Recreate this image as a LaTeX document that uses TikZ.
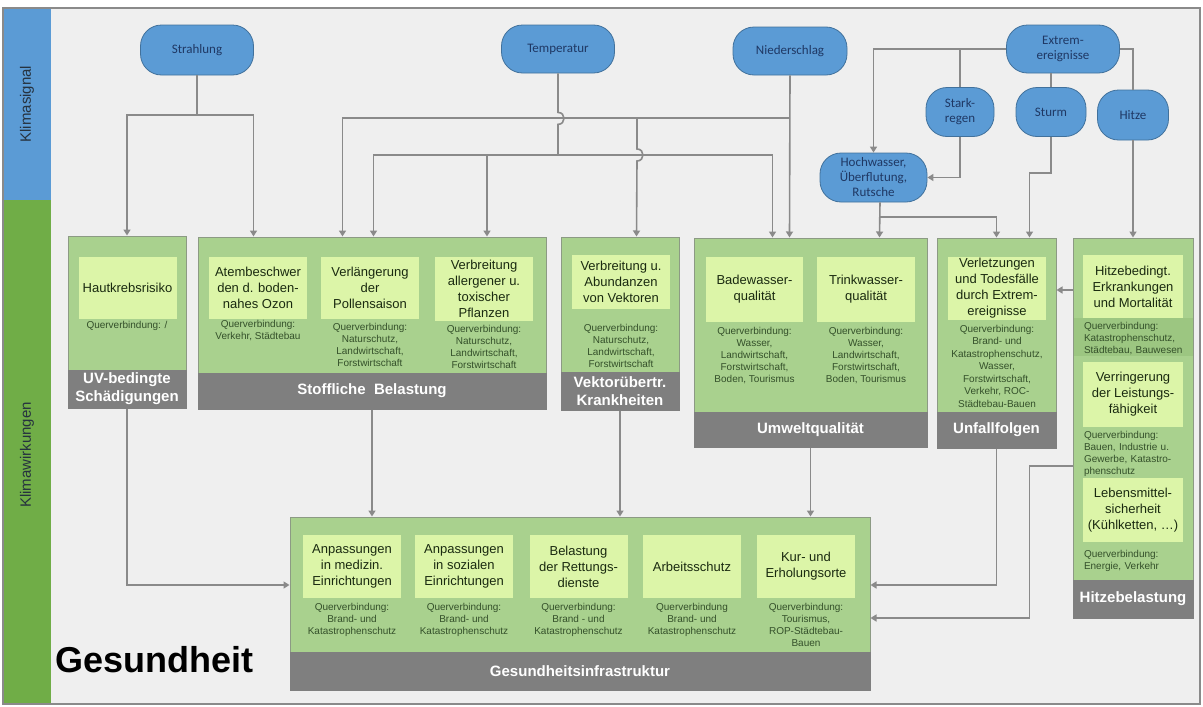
\documentclass[tikz,border=0pt]{standalone}
\usepackage{fontspec}
\setmainfont{Liberation Sans}
\newfontfamily\sigfont{Carlito}
\usetikzlibrary{arrows.meta}
\definecolor{bg}{HTML}{EFEFEF}
\definecolor{stripblue}{HTML}{5B9BD5}
\definecolor{stripgreen}{HTML}{70AD47}
\definecolor{sigfill}{HTML}{5B9BD5}
\definecolor{sigdraw}{HTML}{41719C}
\definecolor{sigtext}{HTML}{1F3864}
\definecolor{boxfill}{HTML}{A9D18E}
\definecolor{boxdark}{HTML}{9CC681}
\definecolor{boxdraw}{HTML}{8C9A84}
\definecolor{innerfill}{HTML}{DCF5A8}
\definecolor{bandfill}{HTML}{7F7F7F}
\definecolor{conncol}{HTML}{8A8A8A}
\definecolor{innertext}{HTML}{1A2A10}
\definecolor{qtext}{HTML}{34502A}
\definecolor{striptext}{HTML}{26323F}
\begin{document}
\begin{tikzpicture}[x=1pt,y=-1pt,
 sig/.style={rectangle,rounded corners=21pt,fill=sigfill,draw=sigdraw,line width=0.8pt,text=sigtext,font=\sigfont\fontsize{13}{15}\selectfont,align=center,inner sep=0pt},
 gbox/.style={rectangle,fill=boxfill,draw=boxdraw,line width=1pt,inner sep=0pt},
 band/.style={rectangle,fill=bandfill,draw=bandfill,line width=1pt,inner sep=0pt,text=white,font=\bfseries\fontsize{15}{18}\selectfont,align=center},
 inner/.style={rectangle,fill=innerfill,inner sep=0pt,minimum width=98pt,text=innertext,font=\fontsize{13}{16}\selectfont,align=center},
 qtxt/.style={text=qtext,font=\fontsize{10}{12}\selectfont,align=center,inner sep=0pt},
 qleft/.style={qtxt,text width=100pt,align=left},
 conn/.style={draw=conncol,line width=1.6pt},
 arr/.style={conn,-{Triangle[width=7pt,length=6pt]}},
 striplabel/.style={rotate=90,text=striptext,font=\fontsize{15}{17}\selectfont}
]
\useasboundingbox (0,0) rectangle (1203,707);
\fill[white] (0,0) rectangle (1203,707);
\fill[bg] (3,8) rectangle (1200,704);
\fill[stripblue] (3,8) rectangle (51,200);
\fill[stripgreen] (3,200) rectangle (51,704);
\draw[conncol,line width=1.2pt] (3,8) rectangle (1200,704);
\node[striplabel] (ks) at (27,104) {Klimasignal};
\node[striplabel] (kw) at (27,455) {Klimawirkungen};
\node[anchor=base west,font=\bfseries\fontsize{36}{40}\selectfont,inner sep=0pt] (ges) at (55,672) {Gesundheit};

% ---- signals
\node[sig,minimum width=113pt,minimum height=50pt] (strahl) at (197,50) {Strahlung};
\node[sig,minimum width=113pt,minimum height=48pt] (temp) at (558,49) {Temperatur};
\node[sig,minimum width=114pt,minimum height=48pt] (nieder) at (790,51) {Niederschlag};
\node[sig,minimum width=113pt,minimum height=48pt] (extrem) at (1063,49) {Extrem-\\ereignisse};
\node[sig,minimum width=68pt,minimum height=49pt] (stark) at (960,112) {Stark-\\regen};
\node[sig,minimum width=70pt,minimum height=49pt] (sturm) at (1051,112) {Sturm};
\node[sig,minimum width=71pt,minimum height=50pt] (hitzes) at (1133,115) {Hitze};
\node[sig,minimum width=107pt,minimum height=49pt] (hoch) at (873.5,177.5) {Hochwasser,\\Überflutung,\\Rutsche};

% ---- UV
\node[gbox,minimum width=118pt,minimum height=172pt] (uv) at (127,322) {};
\node[band,minimum width=118pt,minimum height=38pt] (uvb) at (127,389) {UV-bedingte\\Schädigungen};
\node[inner,minimum height=62pt] (haut) at (127.5,288) {Hautkrebsrisiko};
\node[qtxt] (hautq) at (127,326) {Querverbindung: /};

% ---- Stoffliche Belastung
\node[gbox,minimum width=348pt,minimum height=172pt] (stoff) at (372,323) {};
\node[band,minimum width=348pt,minimum height=36pt] (stoffb) at (372,391) {Stoffliche\ \ Belastung};
\node[inner,minimum height=62pt] (atem) at (258,288) {Atembeschwer\\den d. boden-\\nahes Ozon};
\node[qtxt] (atemq) at (258,331) {Querverbindung:\\Verkehr, Städtebau};
\node[inner,minimum height=62pt] (pollen) at (370,288) {Verlängerung\\der\\Pollensaison};
\node[qtxt] (pollenq) at (370,345) {Querverbindung:\\Naturschutz,\\Landwirtschaft,\\Forstwirtschaft};
\node[inner,minimum height=64pt] (pflanz) at (484,289) {Verbreitung\\allergener u.\\toxischer\\Pflanzen};
\node[qtxt] (pflanzq) at (484,347) {Querverbindung:\\Naturschutz,\\Landwirtschaft,\\Forstwirtschaft};

% ---- Vektor
\node[gbox,minimum width=118pt,minimum height=173pt] (vektor) at (620,323.5) {};
\node[band,minimum width=118pt,minimum height=38pt] (vektorb) at (620,391) {Vektorübertr.\\Krankheiten};
\node[inner,minimum height=54pt] (vekt) at (621,282) {Verbreitung u.\\Abundanzen\\von Vektoren};
\node[qtxt] (vektq) at (621,346) {Querverbindung:\\Naturschutz,\\Landwirtschaft,\\Forstwirtschaft};

% ---- Umwelt
\node[gbox,minimum width=233pt,minimum height=209pt] (umwelt) at (810.5,342.5) {};
\node[band,minimum width=233pt,minimum height=35pt] (umweltb) at (810.5,429.5) {Umweltqualität};
\node[inner,minimum width=97pt,minimum height=65pt] (bade) at (754.5,289.5) {Badewasser-\\qualität};
\node[qtxt] (badeq) at (754.5,356) {Querverbindung:\\Wasser,\\Landwirtschaft,\\Forstwirtschaft,\\Boden, Tourismus};
\node[inner,minimum height=65pt] (trink) at (866,289.5) {Trinkwasser-\\qualität};
\node[qtxt] (trinkq) at (866,356) {Querverbindung:\\Wasser,\\Landwirtschaft,\\Forstwirtschaft,\\Boden, Tourismus};

% ---- Unfall
\node[gbox,minimum width=119pt,minimum height=210pt] (unfall) at (996.5,343) {};
\node[band,minimum width=119pt,minimum height=36pt] (unfallb) at (996.5,430) {Unfallfolgen};
\node[inner,minimum height=63pt] (verl) at (997,288.5) {Verletzungen\\und Todesfälle\\durch Extrem-\\ereignisse};
\node[qtxt,font=\fontsize{10}{12.5}\selectfont] (verlq) at (997,366) {Querverbindung:\\Brand- und\\Katastrophenschutz,\\Wasser,\\Forstwirtschaft,\\Verkehr, ROC-\\Städtebau-Bauen};

% ---- Hitze
\node[gbox,minimum width=120pt,minimum height=380pt] (hitze) at (1133,428) {};
\fill[boxdark] (1073.5,318) rectangle (1192.5,356);
\node[band,minimum width=120pt,minimum height=38pt] (hitzeb) at (1133,599) {Hitzebelastung};
\node[inner,minimum width=100pt,minimum height=63pt] (hmort) at (1133,286.5) {Hitzebedingt.\\Erkrankungen\\und Mortalität};
\node[qleft] (hmortq) at (1134,339) {Querverbindung:\\Katastrophenschutz,\\Städtebau, Bauwesen};
\node[inner,minimum width=100pt,minimum height=65pt] (hleist) at (1133,394.5) {Verringerung\\der Leistungs-\\fähigkeit};
\node[qleft] (hleistq) at (1134,454) {Querverbindung:\\Bauen, Industrie u.\\Gewerbe, Katastro-\\phenschutz};
\node[inner,minimum width=100pt,minimum height=64pt] (hleb) at (1133,510) {Lebensmittel-\\sicherheit\\(Kühlketten, …)};
\node[qleft] (hlebq) at (1134,561) {Querverbindung:\\Energie, Verkehr};

% ---- Gesundheitsinfrastruktur
\node[gbox,minimum width=580pt,minimum height=173pt] (gesund) at (580,603.5) {};
\node[band,minimum width=580pt,minimum height=38pt] (gesundb) at (580,671) {Gesundheitsinfrastruktur};
\node[inner,minimum height=63pt] (med) at (352,566.5) {Anpassungen\\in medizin.\\Einrichtungen};
\node[qtxt] (medq) at (352,620) {Querverbindung:\\Brand- und\\Katastrophenschutz};
\node[inner,minimum height=63pt] (soz) at (464,566.5) {Anpassungen\\in sozialen\\Einrichtungen};
\node[qtxt] (sozq) at (464,620) {Querverbindung:\\Brand- und\\Katastrophenschutz};
\node[inner,minimum height=63pt] (bel) at (578.5,566.5) {Belastung\\der Rettungs-\\dienste};
\node[qtxt] (belq) at (578.5,620) {Querverbindung:\\Brand - und\\Katastrophenschutz};
\node[inner,minimum height=63pt] (arb) at (692,566.5) {Arbeitsschutz};
\node[qtxt] (arbq) at (692,620) {Querverbindung\\Brand- und\\Katastrophenschutz};
\node[inner,minimum height=63pt] (kur) at (806,566.5) {Kur- und\\Erholungsorte};
\node[qtxt] (kurq) at (806,625) {Querverbindung:\\Tourismus,\\ROP-Städtebau-\\Bauen};

% ---- connectors: Strahlung
\coordinate (sj) at (197,115);
\draw[conn] (strahl.south) -- (sj);
\draw[arr] (sj) -| (uv.north);
\draw[arr] (sj) -| ([xshift=56pt]stoff.north west);
% Niederschlag
\coordinate (nj) at (790,118);
\coordinate (nk) at (637,118);
\draw[arr] (nieder.south) -- ([xshift=96pt]umwelt.north west);
\draw[arr] (nj) -| ([xshift=145pt]stoff.north west);
\draw[arr] (nk) -- ++(0,31) .. controls +(8,0) and +(8,0) .. ++(0,12) -- ([xshift=76pt]vektor.north west);
% Temperatur
\coordinate (tj) at (558,155);
\coordinate (tk) at (487,155);
\draw[conn] (temp.south) -- ++(0,39) .. controls +(8,0) and +(8,0) .. ++(0,12) -- (tj);
\draw[arr] (tj) -| ([xshift=176pt]stoff.north west);
\draw[arr] (tk) -- (tk |- stoff.north);
\draw[arr] (tj) -| ([xshift=79pt]umwelt.north west);
% Extremereignisse
\coordinate (ej) at (960,49);
\draw[arr] (extrem.west) -| (hoch.north);
\draw[conn] (ej) -- (stark.north);
\draw[conn] (extrem.south -| sturm.north) -- (sturm.north);
\draw[conn] (extrem.east) -| (hitzes.north);
\draw[arr] (hitzes.south) -- (hitze.north);
\draw[arr] (stark.south) |- (hoch.east);
\draw[arr] (sturm.south) -- ++(0,36) -| ([xshift=93pt]unfall.north west);
\coordinate (hj) at (880,217);
\draw[arr] ([xshift=6.5pt]hoch.south) -- ([xshift=186pt]umwelt.north west);
\draw[arr] (hj) -| ([xshift=60pt]unfall.north west);
% lower connectors
\draw[arr] (uv.south) |- ([yshift=18.5pt]gesund.west);
\draw[arr] (stoff.south) -- (stoff.south |- gesund.north);
\draw[arr] (vektor.south) -- (vektor.south |- gesund.north);
\draw[arr] (umwelt.south) -- (umwelt.south |- gesund.north);
\draw[arr] (unfall.south) |- ([yshift=18.5pt]gesund.east);
\draw[arr] ([yshift=-38pt]hitze.west) -- ++(-43,0) |- ([yshift=-14.5pt]gesund.east);
\draw[arr] ([yshift=138pt]hitze.west) -- ([yshift=53pt]unfall.east);
\end{tikzpicture}
\end{document}
